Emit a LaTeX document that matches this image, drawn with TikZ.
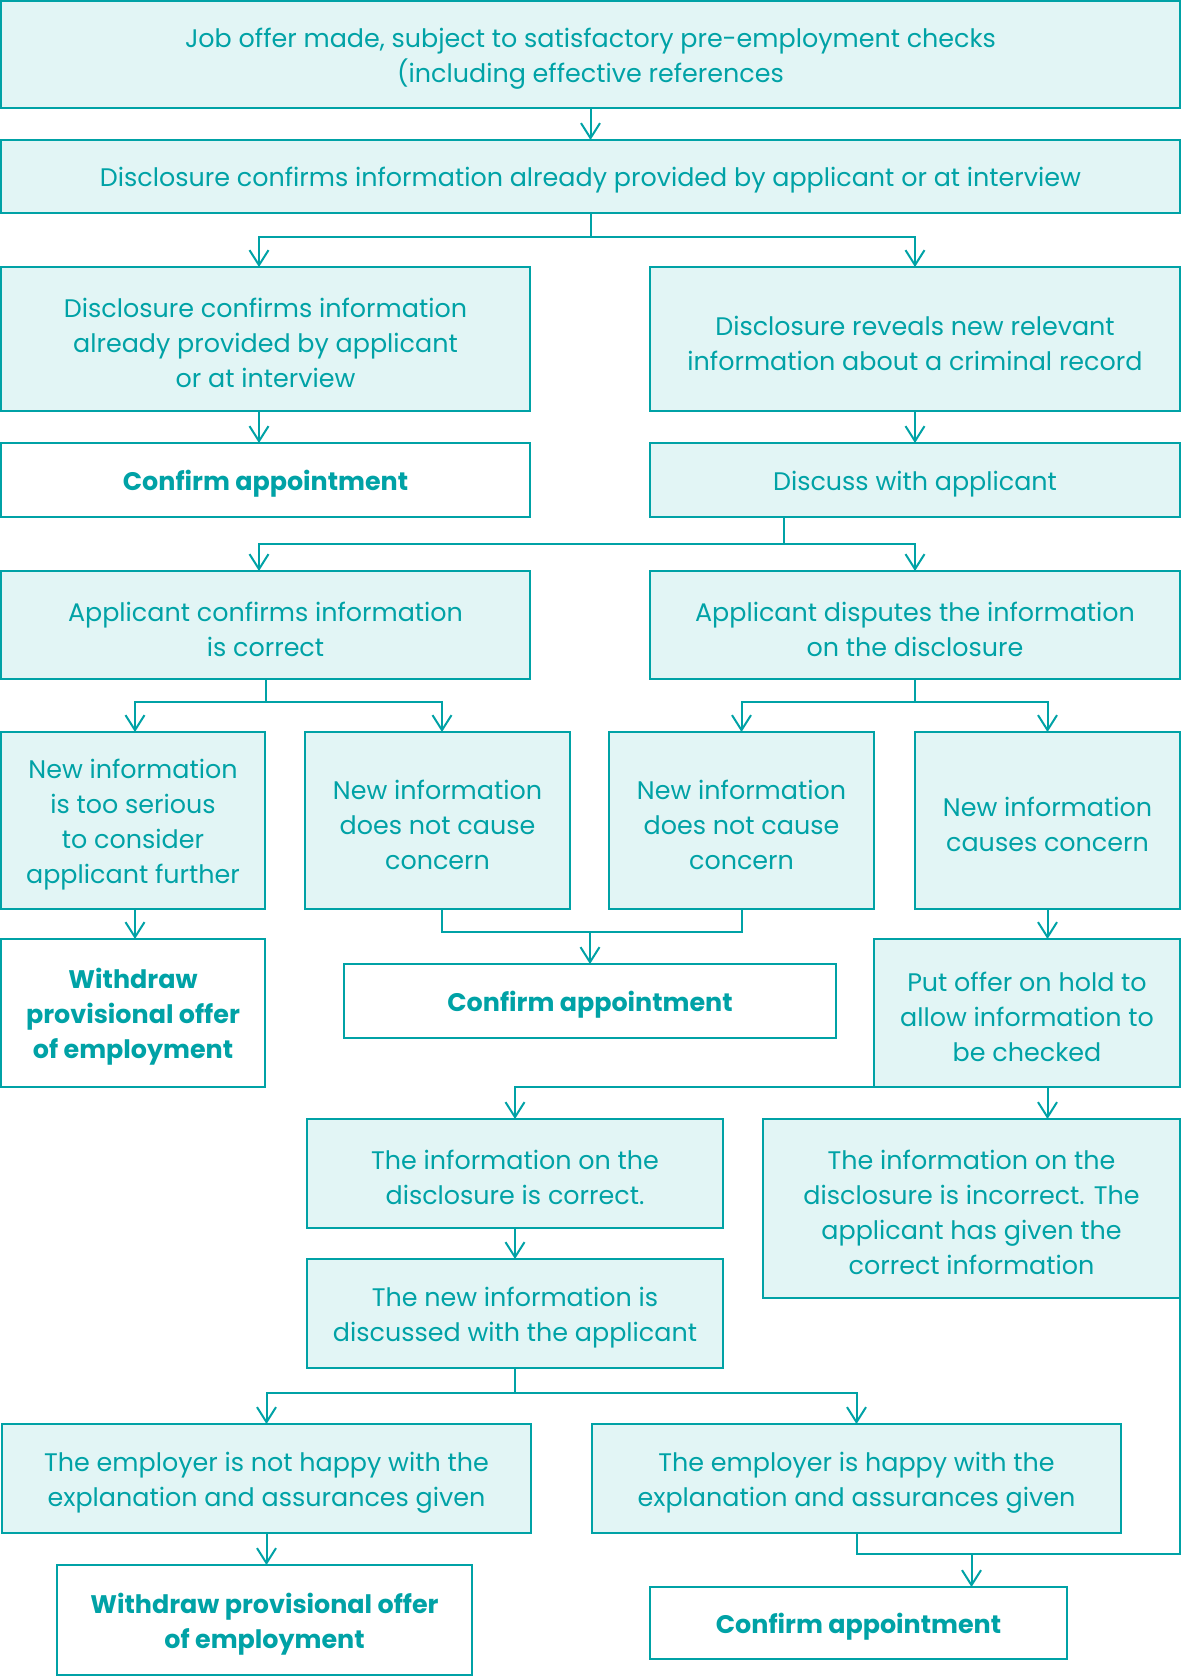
\documentclass[tikz,border=0pt]{standalone}
\usepackage{fontspec}
\setmainfont{Poppins}
\usetikzlibrary{arrows.meta,calc}
\definecolor{tealc}{HTML}{00A2A6}
\definecolor{lightc}{HTML}{E2F5F5}
\tikzset{
  box/.style={draw=tealc, line width=2pt, fill=lightc, inner sep=0pt, outer sep=0pt},
  endbox/.style={box, fill=white},
  boxtext/.style={text=tealc, align=center, inner sep=0pt, font=\fontsize{25.4}{35}\selectfont},
  endboxtext/.style={boxtext, font=\bfseries\fontsize{25.4}{35}\selectfont},
  conn/.style={draw=tealc, line width=2pt},
  arr/.style={conn, -{Straight Barb[length=15pt,width=19pt,line width=2pt]}},
}
% \flowbox{name}{x1}{y1}{x2}{y2}{style}{text}: the frame, then its text set a little low
\newcommand\flowbox[7]{%
  \node[#6, minimum width={#4-#2}, minimum height={#5-#3}] (#1)
    at ({(#2+#4)/2},{(#3+#5)/2}) {};
  \node[#6text] (#1-t) at ([yshift=-4pt]#1.center) {#7};}
\begin{document}
\begin{tikzpicture}[x=1pt,y=-1pt]
\useasboundingbox (0,0) rectangle (1181,1677);

\flowbox{b1}{1}{1}{1180}{108}{box}{Job offer made, subject to satisfactory pre-employment checks\\(including effective references}
\flowbox{b2}{1}{140}{1180}{213}{box}{Disclosure confirms information already provided by applicant or at interview}
\flowbox{b3}{1}{267}{530}{411}{box}{Disclosure confirms information\\already provided by applicant\\or at interview}
\flowbox{b4}{650}{267}{1180}{411}{box}{Disclosure reveals new relevant\\information about a criminal record}
\flowbox{b5}{1}{443}{530}{517}{endbox}{Confirm appointment}
\flowbox{b6}{650}{443}{1180}{517}{box}{Discuss with applicant}
\flowbox{b7}{1}{571}{530}{679}{box}{Applicant confirms information\\is correct}
\flowbox{b8}{650}{571}{1180}{679}{box}{Applicant disputes the information\\on the disclosure}
\flowbox{b9}{1}{732}{265}{909}{box}{New information\\is too serious\\to consider\\applicant further}
\flowbox{b10}{305}{732}{570}{909}{box}{New information\\does not cause\\concern}
\flowbox{b11}{609}{732}{874}{909}{box}{New information\\does not cause\\concern}
\flowbox{b12}{915}{732}{1180}{909}{box}{New information\\causes concern}
\flowbox{b13}{1}{939}{265}{1087}{endbox}{Withdraw\\provisional offer\\of employment}
\flowbox{b14}{344}{964}{836}{1038}{endbox}{Confirm appointment}
\flowbox{b15}{874}{939}{1180}{1087}{box}{Put offer on hold to\\allow information to\\be checked}
\flowbox{b16}{307}{1119}{723}{1228}{box}{The information on the\\disclosure is correct.}
\flowbox{b17}{763}{1119}{1180}{1298}{box}{The information on the\\disclosure is incorrect. The\\applicant has given the\\correct information}
\flowbox{b18}{307}{1259}{723}{1368}{box}{The new information is\\discussed with the applicant}
\flowbox{b19}{2}{1424}{531}{1533}{box}{The employer is not happy with the\\explanation and assurances given}
\flowbox{b20}{592}{1424}{1121}{1533}{box}{The employer is happy with the\\explanation and assurances given}
\flowbox{b21}{57}{1565}{472}{1675}{endbox}{Withdraw provisional offer\\of employment}
\flowbox{b22}{650}{1587}{1067}{1659}{endbox}{Confirm appointment}

% attachment points on the left-hand column
\coordinate (p3) at ($(b3.north west)+(258,0)$);
\coordinate (p9) at ($(b9.north west)+(134,0)$);
\coordinate (p10) at ($(b10.north west)+(137,0)$);

% top of the chart
\draw[arr] (b1.south) -- (b2.north);
\draw[conn] (b2.south) -- ++(0,24) coordinate (j2);
\draw[arr] (j2) -| (p3);
\draw[arr] (j2) -| (b4.north);
\draw[arr] (b3.south -| p3) -- (b5.north -| p3);
\draw[arr] (b4.south) -- (b6.north);

% discussion with the applicant
\draw[conn] ($(b6.south west)+(134,0)$) -- ++(0,27) coordinate (j6);
\draw[arr] (j6) -| (b7.north -| p3);
\draw[arr] (j6) -| (b8.north);
\draw[conn] (b7.south) -- ++(0,23) coordinate (j7);
\draw[arr] (j7) -| (p9);
\draw[arr] (j7) -| (p10);
\draw[conn] (b8.south) -- ++(0,23) coordinate (j8);
\draw[arr] (j8) -| (b11.north);
\draw[arr] (j8) -| (b12.north);

% outcomes of the new information
\draw[arr] (b9.south -| p9) -- (b13.north -| p9);
\draw[conn] (b10.south -| p10) -- ++(0,23) coordinate (j10) -| (b11.south);
\draw[arr] (j10 -| b14.north) -- (b14.north);
\draw[arr] (b12.south) -- (b15.north -| b12.south);

% checking the information
\draw[arr] ($(b15.south west)+(64,0)$) -| (b16.north);
\draw[arr] (b15.south -| b12.south) -- (b17.north -| b12.south);
\draw[arr] (b16.south) -- (b18.north);
\draw[conn] (b18.south) -- ++(0,25) coordinate (j18);
\draw[arr] (j18) -| (b19.north);
\draw[arr] (j18) -| (b20.north);
\draw[arr] (b19.south) -- (b19.south |- b21.north);
\draw[conn] (b20.south) -- ++(0,21) coordinate (j20) -| (b17.south east);
\draw[arr] (j20 -| b17.south) -- (b22.north -| b17.south);
\end{tikzpicture}
\end{document}
